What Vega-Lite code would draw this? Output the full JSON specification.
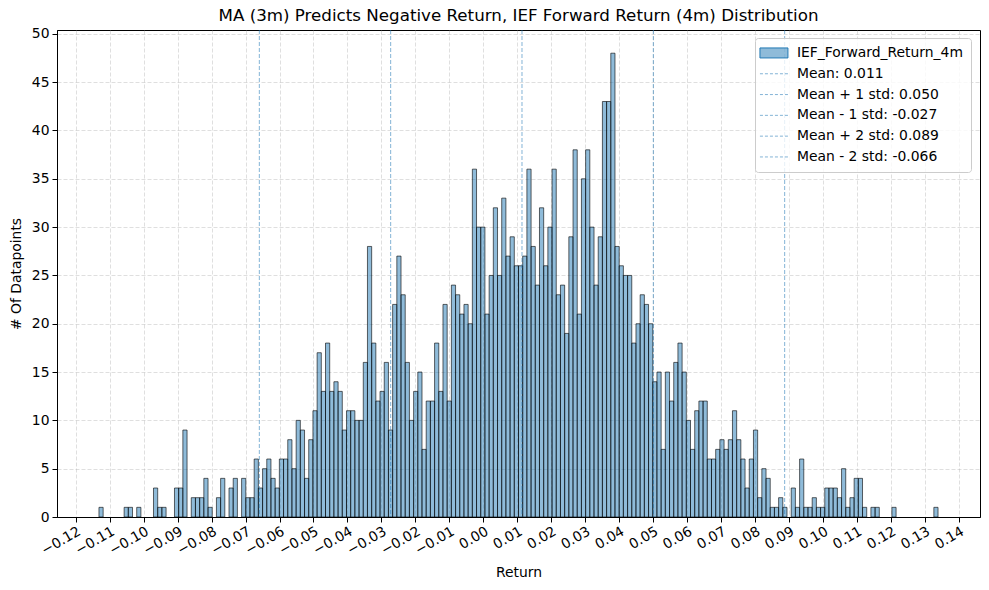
{
  "$schema": "https://vega.github.io/schema/vega-lite/v6.json",
  "width": 923,
  "height": 487,
  "autosize": "none",
  "padding": {"left": 57, "top": 30, "right": 9, "bottom": 73},
  "config": {
    "font": "DejaVu Sans",
    "view": {"stroke": "black", "strokeWidth": 1},
    "axis": {
      "labelFont": "DejaVu Sans", "labelFontSize": 13.9, "labelColor": "black",
      "titleFont": "DejaVu Sans", "titleFontSize": 13.9, "titleFontWeight": "normal", "titleColor": "black",
      "domainColor": "black", "tickColor": "black", "tickSize": 5,
      "grid": true, "gridColor": "#b0b0b0", "gridOpacity": 0.5, "gridDash": [4, 2], "gridWidth": 0.8
    },
    "legend": {
      "title": null, "orient": "none", "legendX": 698, "legendY": 8,
      "labelFont": "DejaVu Sans", "labelFontSize": 13.9, "labelColor": "black", "labelLimit": 400,
      "symbolSize": 100, "symbolOffset": 4, "labelOffset": 16, "rowPadding": 5.8, "padding": 8,
      "strokeColor": "#cccccc", "fillColor": "rgba(255,255,255,0.8)", "cornerRadius": 3
    }
  },
  "title": {"text": "MA (3m) Predicts Negative Return, IEF Forward Return (4m) Distribution", "fontSize": 16.7, "fontWeight": "normal", "font": "DejaVu Sans", "color": "black", "offset": 2},
  "layer": [
    {
      "data": {"values": [
        {"lo": -0.11315, "hi": -0.111915, "n": 1},
        {"lo": -0.10574, "hi": -0.104505, "n": 1},
        {"lo": -0.104505, "hi": -0.10327, "n": 1},
        {"lo": -0.102035, "hi": -0.1008, "n": 1},
        {"lo": -0.097095, "hi": -0.09586, "n": 3},
        {"lo": -0.09586, "hi": -0.094625, "n": 1},
        {"lo": -0.094625, "hi": -0.09339, "n": 1},
        {"lo": -0.09092, "hi": -0.089685, "n": 3},
        {"lo": -0.089685, "hi": -0.08845, "n": 3},
        {"lo": -0.08845, "hi": -0.087215, "n": 9},
        {"lo": -0.08598, "hi": -0.084745, "n": 2},
        {"lo": -0.084745, "hi": -0.08351, "n": 2},
        {"lo": -0.08351, "hi": -0.082275, "n": 2},
        {"lo": -0.082275, "hi": -0.08104, "n": 4},
        {"lo": -0.08104, "hi": -0.079805, "n": 1},
        {"lo": -0.07857, "hi": -0.077335, "n": 2},
        {"lo": -0.077335, "hi": -0.0761, "n": 4},
        {"lo": -0.074865, "hi": -0.07363, "n": 3},
        {"lo": -0.07363, "hi": -0.072395, "n": 4},
        {"lo": -0.07116, "hi": -0.069925, "n": 4},
        {"lo": -0.069925, "hi": -0.06869, "n": 2},
        {"lo": -0.06869, "hi": -0.067455, "n": 2},
        {"lo": -0.067455, "hi": -0.06622, "n": 6},
        {"lo": -0.06622, "hi": -0.064985, "n": 3},
        {"lo": -0.064985, "hi": -0.06375, "n": 5},
        {"lo": -0.06375, "hi": -0.062515, "n": 6},
        {"lo": -0.062515, "hi": -0.06128, "n": 4},
        {"lo": -0.06128, "hi": -0.060045, "n": 3},
        {"lo": -0.060045, "hi": -0.05881, "n": 6},
        {"lo": -0.05881, "hi": -0.057575, "n": 6},
        {"lo": -0.057575, "hi": -0.05634, "n": 8},
        {"lo": -0.05634, "hi": -0.055105, "n": 5},
        {"lo": -0.055105, "hi": -0.05387, "n": 10},
        {"lo": -0.05387, "hi": -0.052635, "n": 9},
        {"lo": -0.052635, "hi": -0.0514, "n": 4},
        {"lo": -0.0514, "hi": -0.050165, "n": 8},
        {"lo": -0.050165, "hi": -0.04893, "n": 11},
        {"lo": -0.04893, "hi": -0.047695, "n": 17},
        {"lo": -0.047695, "hi": -0.04646, "n": 13},
        {"lo": -0.04646, "hi": -0.045225, "n": 18},
        {"lo": -0.045225, "hi": -0.04399, "n": 13},
        {"lo": -0.04399, "hi": -0.042755, "n": 14},
        {"lo": -0.042755, "hi": -0.04152, "n": 13},
        {"lo": -0.04152, "hi": -0.040285, "n": 9},
        {"lo": -0.040285, "hi": -0.03905, "n": 11},
        {"lo": -0.03905, "hi": -0.037815, "n": 11},
        {"lo": -0.037815, "hi": -0.03658, "n": 10},
        {"lo": -0.03658, "hi": -0.035345, "n": 10},
        {"lo": -0.035345, "hi": -0.03411, "n": 16},
        {"lo": -0.03411, "hi": -0.032875, "n": 28},
        {"lo": -0.032875, "hi": -0.03164, "n": 18},
        {"lo": -0.03164, "hi": -0.030405, "n": 12},
        {"lo": -0.030405, "hi": -0.02917, "n": 13},
        {"lo": -0.02917, "hi": -0.027935, "n": 16},
        {"lo": -0.027935, "hi": -0.0267, "n": 9},
        {"lo": -0.0267, "hi": -0.025465, "n": 22},
        {"lo": -0.025465, "hi": -0.02423, "n": 27},
        {"lo": -0.02423, "hi": -0.022995, "n": 23},
        {"lo": -0.022995, "hi": -0.02176, "n": 16},
        {"lo": -0.02176, "hi": -0.020525, "n": 10},
        {"lo": -0.020525, "hi": -0.01929, "n": 13},
        {"lo": -0.01929, "hi": -0.018055, "n": 15},
        {"lo": -0.018055, "hi": -0.01682, "n": 7},
        {"lo": -0.01682, "hi": -0.015585, "n": 12},
        {"lo": -0.015585, "hi": -0.01435, "n": 12},
        {"lo": -0.01435, "hi": -0.013115, "n": 18},
        {"lo": -0.013115, "hi": -0.01188, "n": 13},
        {"lo": -0.01188, "hi": -0.010645, "n": 22},
        {"lo": -0.010645, "hi": -0.00941, "n": 12},
        {"lo": -0.00941, "hi": -0.008175, "n": 24},
        {"lo": -0.008175, "hi": -0.00694, "n": 23},
        {"lo": -0.00694, "hi": -0.005705, "n": 21},
        {"lo": -0.005705, "hi": -0.00447, "n": 22},
        {"lo": -0.00447, "hi": -0.003235, "n": 20},
        {"lo": -0.003235, "hi": -0.002, "n": 36},
        {"lo": -0.002, "hi": -0.000765, "n": 30},
        {"lo": -0.000765, "hi": 0.00047, "n": 30},
        {"lo": 0.00047, "hi": 0.001705, "n": 21},
        {"lo": 0.001705, "hi": 0.00294, "n": 25},
        {"lo": 0.00294, "hi": 0.004175, "n": 32},
        {"lo": 0.004175, "hi": 0.00541, "n": 25},
        {"lo": 0.00541, "hi": 0.006645, "n": 33},
        {"lo": 0.006645, "hi": 0.00788, "n": 27},
        {"lo": 0.00788, "hi": 0.009115, "n": 29},
        {"lo": 0.009115, "hi": 0.01035, "n": 26},
        {"lo": 0.01035, "hi": 0.011585, "n": 26},
        {"lo": 0.011585, "hi": 0.01282, "n": 27},
        {"lo": 0.01282, "hi": 0.014055, "n": 36},
        {"lo": 0.014055, "hi": 0.01529, "n": 28},
        {"lo": 0.01529, "hi": 0.016525, "n": 24},
        {"lo": 0.016525, "hi": 0.01776, "n": 32},
        {"lo": 0.01776, "hi": 0.018995, "n": 26},
        {"lo": 0.018995, "hi": 0.02023, "n": 30},
        {"lo": 0.02023, "hi": 0.021465, "n": 36},
        {"lo": 0.021465, "hi": 0.0227, "n": 23},
        {"lo": 0.0227, "hi": 0.023935, "n": 24},
        {"lo": 0.023935, "hi": 0.02517, "n": 19},
        {"lo": 0.02517, "hi": 0.026405, "n": 29},
        {"lo": 0.026405, "hi": 0.02764, "n": 38},
        {"lo": 0.02764, "hi": 0.028875, "n": 21},
        {"lo": 0.028875, "hi": 0.03011, "n": 35},
        {"lo": 0.03011, "hi": 0.031345, "n": 38},
        {"lo": 0.031345, "hi": 0.03258, "n": 30},
        {"lo": 0.03258, "hi": 0.033815, "n": 24},
        {"lo": 0.033815, "hi": 0.03505, "n": 29},
        {"lo": 0.03505, "hi": 0.036285, "n": 43},
        {"lo": 0.036285, "hi": 0.03752, "n": 43},
        {"lo": 0.03752, "hi": 0.038755, "n": 48},
        {"lo": 0.038755, "hi": 0.03999, "n": 28},
        {"lo": 0.03999, "hi": 0.041225, "n": 26},
        {"lo": 0.041225, "hi": 0.04246, "n": 25},
        {"lo": 0.04246, "hi": 0.043695, "n": 25},
        {"lo": 0.043695, "hi": 0.04493, "n": 18},
        {"lo": 0.04493, "hi": 0.046165, "n": 20},
        {"lo": 0.046165, "hi": 0.0474, "n": 23},
        {"lo": 0.0474, "hi": 0.048635, "n": 22},
        {"lo": 0.048635, "hi": 0.04987, "n": 20},
        {"lo": 0.04987, "hi": 0.051105, "n": 14},
        {"lo": 0.051105, "hi": 0.05234, "n": 15},
        {"lo": 0.05234, "hi": 0.053575, "n": 7},
        {"lo": 0.053575, "hi": 0.05481, "n": 15},
        {"lo": 0.05481, "hi": 0.056045, "n": 12},
        {"lo": 0.056045, "hi": 0.05728, "n": 16},
        {"lo": 0.05728, "hi": 0.058515, "n": 18},
        {"lo": 0.058515, "hi": 0.05975, "n": 15},
        {"lo": 0.05975, "hi": 0.060985, "n": 10},
        {"lo": 0.060985, "hi": 0.06222, "n": 7},
        {"lo": 0.06222, "hi": 0.063455, "n": 11},
        {"lo": 0.063455, "hi": 0.06469, "n": 12},
        {"lo": 0.06469, "hi": 0.065925, "n": 12},
        {"lo": 0.065925, "hi": 0.06716, "n": 6},
        {"lo": 0.06716, "hi": 0.068395, "n": 6},
        {"lo": 0.068395, "hi": 0.06963, "n": 7},
        {"lo": 0.06963, "hi": 0.070865, "n": 8},
        {"lo": 0.070865, "hi": 0.0721, "n": 7},
        {"lo": 0.0721, "hi": 0.073335, "n": 8},
        {"lo": 0.073335, "hi": 0.07457, "n": 11},
        {"lo": 0.07457, "hi": 0.075805, "n": 8},
        {"lo": 0.075805, "hi": 0.07704, "n": 6},
        {"lo": 0.07704, "hi": 0.078275, "n": 3},
        {"lo": 0.078275, "hi": 0.07951, "n": 6},
        {"lo": 0.07951, "hi": 0.080745, "n": 9},
        {"lo": 0.080745, "hi": 0.08198, "n": 2},
        {"lo": 0.08198, "hi": 0.083215, "n": 5},
        {"lo": 0.083215, "hi": 0.08445, "n": 4},
        {"lo": 0.08445, "hi": 0.085685, "n": 1},
        {"lo": 0.085685, "hi": 0.08692, "n": 1},
        {"lo": 0.08692, "hi": 0.088155, "n": 2},
        {"lo": 0.088155, "hi": 0.08939, "n": 1},
        {"lo": 0.090625, "hi": 0.09186, "n": 3},
        {"lo": 0.09186, "hi": 0.093095, "n": 1},
        {"lo": 0.093095, "hi": 0.09433, "n": 6},
        {"lo": 0.09433, "hi": 0.095565, "n": 1},
        {"lo": 0.095565, "hi": 0.0968, "n": 1},
        {"lo": 0.0968, "hi": 0.098035, "n": 2},
        {"lo": 0.098035, "hi": 0.09927, "n": 1},
        {"lo": 0.09927, "hi": 0.100505, "n": 1},
        {"lo": 0.100505, "hi": 0.10174, "n": 3},
        {"lo": 0.10174, "hi": 0.102975, "n": 3},
        {"lo": 0.102975, "hi": 0.10421, "n": 3},
        {"lo": 0.10421, "hi": 0.105445, "n": 2},
        {"lo": 0.105445, "hi": 0.10668, "n": 5},
        {"lo": 0.10668, "hi": 0.107915, "n": 1},
        {"lo": 0.107915, "hi": 0.10915, "n": 2},
        {"lo": 0.10915, "hi": 0.110385, "n": 4},
        {"lo": 0.110385, "hi": 0.11162, "n": 4},
        {"lo": 0.11162, "hi": 0.112855, "n": 1},
        {"lo": 0.11409, "hi": 0.115325, "n": 1},
        {"lo": 0.115325, "hi": 0.11656, "n": 1},
        {"lo": 0.120265, "hi": 0.1215, "n": 1},
        {"lo": 0.132615, "hi": 0.13385, "n": 1}
      ]},
      "mark": {"type": "bar", "fillOpacity": 0.5, "stroke": "black", "strokeOpacity": 0.6, "strokeWidth": 1},
      "encoding": {
        "x": {
          "field": "lo", "type": "quantitative",
          "scale": {"domain": [-0.1255, 0.1462], "nice": false, "zero": false},
          "axis": {
            "title": "Return", "titlePadding": 8,
            "values": [-0.12, -0.11, -0.1, -0.09, -0.08, -0.07, -0.06, -0.05, -0.04, -0.03, -0.02, -0.01, 0, 0.01, 0.02, 0.03, 0.04, 0.05, 0.06, 0.07, 0.08, 0.09, 0.1, 0.11, 0.12, 0.13, 0.14],
            "labelExpr": "replace(format(datum.value, '.2f'), '-', '\u2212')",
            "labelAngle": -30, "labelAlign": "right", "labelBaseline": "top", "labelPadding": 2, "labelFlush": false, "labelOverlap": false
          }
        },
        "x2": {"field": "hi"},
        "y": {
          "field": "n", "type": "quantitative",
          "scale": {"domain": [0, 50.4], "nice": false},
          "axis": {"title": "# Of Datapoints", "titlePadding": 8, "values": [0, 5, 10, 15, 20, 25, 30, 35, 40, 45, 50], "labelPadding": 3}
        },
        "y2": {"datum": 0},
        "color": {
          "datum": "IEF_Forward_Return_4m", "type": "nominal",
          "scale": {
            "domain": ["IEF_Forward_Return_4m", "Mean: 0.011", "Mean + 1 std: 0.050", "Mean - 1 std: -0.027", "Mean + 2 std: 0.089", "Mean - 2 std: -0.066"],
            "range": ["#1f77b4", "#1f77b4", "#1f77b4", "#1f77b4", "#1f77b4", "#1f77b4"]
          },
          "legend": {
            "title": null,
            "encoding": {"symbols": {
              "shape": {"value": {"expr": "datum.value === 'IEF_Forward_Return_4m' ? 'M-2.8,-1H2.8V1H-2.8Z' : 'M-2.8,0H2.8'"}},
              "strokeDash": {"value": {"expr": "datum.value === 'IEF_Forward_Return_4m' ? [1, 0] : [3, 2]"}},
              "strokeWidth": {"value": 1},
              "opacity": {"value": 1},
              "fillOpacity": {"value": {"expr": "datum.value === 'IEF_Forward_Return_4m' ? 0.5 : 0"}},
              "strokeOpacity": {"value": {"expr": "datum.value === 'IEF_Forward_Return_4m' ? 1 : 0.55"}}
            }}
          }
        }
      }
    },
    {
      "data": {"values": [
        {"v": 0.01138, "label": "Mean: 0.011"},
        {"v": 0.05004, "label": "Mean + 1 std: 0.050"},
        {"v": -0.02728, "label": "Mean - 1 std: -0.027"},
        {"v": 0.0887, "label": "Mean + 2 std: 0.089"},
        {"v": -0.06594, "label": "Mean - 2 std: -0.066"}
      ]},
      "mark": {"type": "rule", "strokeDash": [4, 2], "strokeWidth": 1, "opacity": 0.55},
      "encoding": {
        "x": {
          "field": "v", "type": "quantitative",
          "axis": {
            "title": "Return", "titlePadding": 8,
            "values": [-0.12, -0.11, -0.1, -0.09, -0.08, -0.07, -0.06, -0.05, -0.04, -0.03, -0.02, -0.01, 0, 0.01, 0.02, 0.03, 0.04, 0.05, 0.06, 0.07, 0.08, 0.09, 0.1, 0.11, 0.12, 0.13, 0.14],
            "labelExpr": "replace(format(datum.value, '.2f'), '-', '\u2212')",
            "labelAngle": -30, "labelAlign": "right", "labelBaseline": "top", "labelPadding": 2, "labelFlush": false, "labelOverlap": false
          }
        },
        "color": {
          "field": "label", "type": "nominal",
          "legend": {
            "title": null,
            "encoding": {"symbols": {
              "shape": {"value": {"expr": "datum.value === 'IEF_Forward_Return_4m' ? 'M-2.8,-1H2.8V1H-2.8Z' : 'M-2.8,0H2.8'"}},
              "strokeDash": {"value": {"expr": "datum.value === 'IEF_Forward_Return_4m' ? [1, 0] : [3, 2]"}},
              "strokeWidth": {"value": 1},
              "opacity": {"value": 1},
              "fillOpacity": {"value": {"expr": "datum.value === 'IEF_Forward_Return_4m' ? 0.5 : 0"}},
              "strokeOpacity": {"value": {"expr": "datum.value === 'IEF_Forward_Return_4m' ? 1 : 0.55"}}
            }}
          }
        }
      }
    }
  ]
}
